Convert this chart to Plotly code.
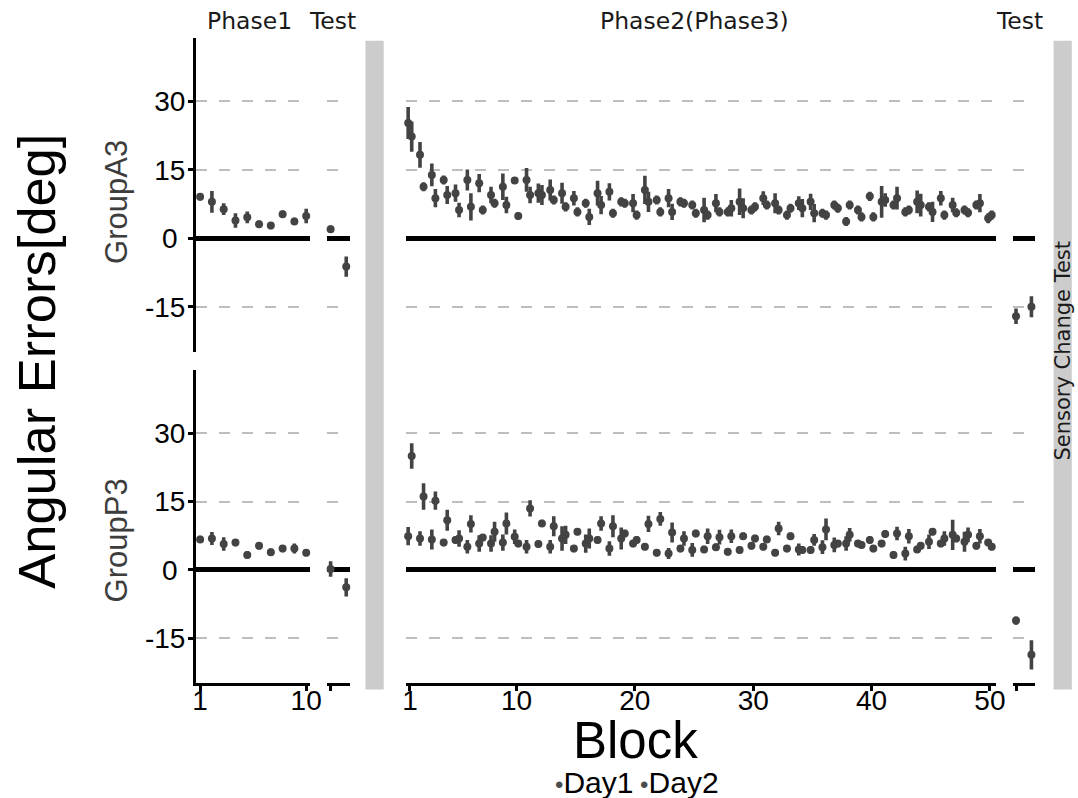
import numpy as np
import plotly.graph_objects as go

W, H = 1078, 798
EW = 1067.5  # effective horizontal extent observed in the photographed page

# ---------------- data ----------------
blocks_phase1 = list(range(1, 11))
blocks_phase2 = list(range(1, 51))
test_positions = [1, 2]
y_ticks = [-15, 0, 15, 30]
y_tick_text = ['-15', '0\u00a0', '15', '30']
x_ticks_phase1 = [1, 10]
x_ticks_phase2 = [1, 10, 20, 30, 40, 50]

# GroupA3
a3_phase1_mean = [9.1, 8.0, 6.4, 3.9, 4.6, 3.1, 2.8, 5.3, 3.7, 4.9]
a3_phase1_se = [0.8, 2.4, 1.3, 1.6, 1.3, 0.8, 0.8, 0.8, 0.8, 1.6]
a3_test1_mean = [2.0, -6.2]
a3_test1_se = [0.8, 2.2]
a3_p2_day1_mean = [25.3, 18.3, 13.9, 12.8, 9.9, 12.8, 12.1, 9.5, 11.3, 12.7,
                   12.8, 9.9, 10.6, 9.9, 8.8, 7.7, 9.9, 10.2, 8.0, 7.7,
                   10.6, 8.4, 8.8, 8.0, 7.3, 6.2, 7.7, 5.8, 8.0, 6.2,
                   8.8, 7.7, 5.1, 7.7, 8.0, 5.5, 7.3, 3.7, 6.2, 9.2,
                   8.0, 7.3, 5.8, 8.0, 6.9, 8.8, 7.3, 6.2, 7.3, 4.4]
a3_p2_day1_se = [3.5, 2.8, 2.5, 1.0, 1.9, 2.3, 2.0, 1.8, 2.9, 0.7,
                 2.6, 2.1, 2.3, 2.3, 1.6, 1.0, 2.7, 1.9, 1.0, 2.0,
                 3.1, 1.0, 2.0, 1.0, 1.0, 2.7, 2.0, 1.0, 2.9, 1.0,
                 1.5, 2.2, 1.0, 1.5, 1.8, 1.0, 1.0, 1.0, 1.0, 1.0,
                 3.5, 1.0, 1.0, 2.5, 1.0, 1.6, 1.6, 1.0, 1.0, 1.1]
a3_p2_day2_mean = [22.3, 11.3, 8.8, 9.5, 6.2, 6.9, 6.2, 7.7, 7.3, 4.9,
                   9.5, 9.5, 8.4, 6.9, 5.8, 4.7, 7.3, 5.5, 7.7, 5.1,
                   8.0, 5.8, 5.8, 7.7, 5.5, 5.1, 5.8, 6.6, 6.6, 6.9,
                   7.3, 6.2, 6.6, 6.6, 5.5, 5.1, 6.6, 7.3, 4.7, 4.7,
                   8.4, 8.8, 6.2, 7.3, 5.8, 5.1, 5.6, 5.6, 7.7, 5.1]
a3_p2_day2_se = [3.3, 1.0, 2.0, 2.0, 1.6, 3.0, 1.0, 1.0, 1.8, 0.8,
                 1.8, 2.2, 1.0, 1.0, 1.0, 1.8, 2.0, 1.0, 1.0, 1.0,
                 2.2, 1.0, 1.8, 1.0, 1.0, 1.0, 1.0, 1.8, 2.2, 1.0,
                 1.0, 1.0, 1.0, 2.0, 2.0, 1.0, 1.0, 1.0, 1.0, 1.0,
                 1.5, 2.5, 1.0, 2.5, 2.2, 1.0, 1.0, 1.0, 2.0, 1.0]
a3_test2_mean = [-17.1, -15.0]
a3_test2_se = [1.7, 2.3]

# GroupP3
p3_phase1_mean = [6.7, 6.9, 5.7, 6.0, 3.3, 5.3, 3.9, 4.7, 4.7, 3.8]
p3_phase1_se = [0.8, 1.4, 1.5, 0.8, 0.8, 0.8, 0.8, 0.8, 1.1, 0.8]
p3_test1_mean = [0.2, -3.8]
p3_test1_se = [1.7, 2.0]
p3_p2_day1_mean = [7.4, 6.9, 6.7, 6.0, 6.6, 5.1, 5.8, 5.8, 6.0, 7.3,
                   5.1, 5.7, 5.1, 6.9, 4.7, 5.8, 6.6, 4.7, 6.9, 5.8,
                   5.1, 3.8, 3.6, 4.7, 4.4, 4.5, 5.0, 4.0, 4.4, 5.3,
                   5.1, 3.8, 4.7, 4.5, 4.4, 5.0, 5.5, 5.8, 5.8, 6.6,
                   5.8, 3.3, 3.6, 4.5, 6.2, 5.8, 7.7, 6.2, 5.3, 6.0]
p3_p2_day1_se = [2.0, 1.6, 2.2, 0.8, 0.8, 1.5, 1.8, 1.8, 1.8, 1.6,
                 1.5, 0.8, 1.5, 2.7, 0.8, 2.0, 0.8, 1.6, 2.4, 0.8,
                 0.8, 0.8, 1.2, 0.8, 1.5, 0.8, 0.8, 0.8, 0.8, 0.8,
                 0.8, 0.8, 0.8, 1.3, 0.8, 1.5, 1.6, 1.6, 0.8, 0.8,
                 0.8, 0.8, 1.5, 0.8, 1.6, 0.8, 3.3, 2.2, 0.8, 0.8]
p3_p2_day2_mean = [25.0, 16.1, 15.2, 10.9, 6.9, 10.1, 7.1, 8.4, 10.2, 5.8,
                   13.5, 10.2, 9.6, 7.7, 8.4, 6.9, 10.2, 9.6, 8.0, 6.6,
                   10.1, 11.2, 8.2, 6.9, 8.0, 7.4, 7.2, 7.4, 7.4, 6.9,
                   6.7, 9.1, 7.4, 4.4, 6.6, 8.9, 5.8, 7.7, 5.5, 4.7,
                   7.9, 8.0, 7.4, 5.3, 8.4, 6.9, 6.9, 7.7, 7.4, 5.1]
p3_p2_day2_se = [2.8, 2.9, 2.0, 2.3, 1.8, 1.9, 0.8, 2.2, 2.4, 0.8,
                 1.8, 0.8, 2.2, 2.0, 0.8, 2.2, 1.6, 2.4, 0.8, 0.8,
                 1.8, 1.5, 2.2, 1.6, 0.8, 1.7, 1.6, 1.5, 0.8, 0.8,
                 0.8, 1.5, 0.8, 0.8, 1.3, 2.4, 0.8, 1.5, 0.8, 0.8,
                 0.8, 1.5, 1.6, 0.8, 0.8, 1.6, 0.8, 1.6, 1.6, 0.8]
p3_test2_mean = [-11.1, -18.6]
p3_test2_se = [0.9, 3.2]

# ---------------- styling ----------------
PT = '#434343'
DODGE = 0.15
SANS = 'Liberation Sans, Arial, sans-serif'
STRIP = 'DejaVu Sans, sans-serif'

col_px = [(193, 307.3), (325, 347.3), (404, 997), (1014, 1036)]
row_px = [(38.3, 351.7), (370, 683.3)]
x_ranges = [[0.65, 10.3], [0.79, 2.21], [0.66, 50.5], [0.79, 2.21]]
y_range = [-24.85, 43.85]


def px(x):
    return x / EW


def xdom(a, b):
    return [px(a), min(px(b), 1.0)]


def ydom(t, b):
    return [1 - b / H, 1 - t / H]


fig = go.Figure()


def add_pts(idx, x, y, e, name):
    sfx = '' if idx == 1 else str(idx)
    fig.add_trace(go.Scatter(
        x=x, y=y, mode='markers', name=name, showlegend=False,
        xaxis='x' + sfx, yaxis='y' + sfx,
        marker=dict(color=PT, size=8, line=dict(width=0)),
        error_y=dict(type='data', array=e, visible=True, thickness=3.6,
                     width=0, color=PT),
        cliponaxis=False,
    ))


b2 = np.array(blocks_phase2, dtype=float)
groups = [
    (a3_phase1_mean, a3_phase1_se, a3_test1_mean, a3_test1_se,
     a3_p2_day1_mean, a3_p2_day1_se, a3_p2_day2_mean, a3_p2_day2_se,
     a3_test2_mean, a3_test2_se),
    (p3_phase1_mean, p3_phase1_se, p3_test1_mean, p3_test1_se,
     p3_p2_day1_mean, p3_p2_day1_se, p3_p2_day2_mean, p3_p2_day2_se,
     p3_test2_mean, p3_test2_se),
]
for r, g in enumerate(groups):
    base = r * 4
    add_pts(base + 1, blocks_phase1, g[0], g[1], 'Day1')
    add_pts(base + 2, test_positions, g[2], g[3], 'Test')
    add_pts(base + 3, b2 - DODGE, g[4], g[5], 'Day1')
    add_pts(base + 3, b2 + DODGE, g[6], g[7], 'Day2')
    add_pts(base + 4, test_positions, g[8], g[9], 'Test')

layout = dict(
    width=W, height=H, margin=dict(l=0, r=0, t=0, b=0),
    paper_bgcolor='white', plot_bgcolor='white', showlegend=False,
    font=dict(family=SANS, color='black'),
)

for r in range(2):
    for c in range(4):
        idx = r * 4 + c + 1
        sfx = '' if idx == 1 else str(idx)
        bottom = (r == 1)
        xa = dict(domain=xdom(*col_px[c]), range=x_ranges[c], anchor='y' + sfx,
                  showgrid=False, zeroline=False, fixedrange=True)
        if bottom:
            if c == 0:
                tv, tt = x_ticks_phase1, [str(v) for v in x_ticks_phase1]
            elif c == 2:
                tv, tt = x_ticks_phase2, [str(v) for v in x_ticks_phase2]
            else:
                tv, tt = [test_positions[0]], ['']
            xa.update(showline=True, linecolor='black', linewidth=3,
                      ticks='outside', ticklen=5, tickwidth=2.5, tickcolor='black',
                      tickvals=tv, ticktext=tt, showticklabels=True,
                      ticklabelstandoff=-15,
                      tickfont=dict(family=SANS, size=28, color='black'))
        else:
            xa.update(showline=False, ticks='', showticklabels=False)
        ya = dict(domain=ydom(*row_px[r]), range=y_range, anchor='x' + sfx,
                  tickvals=y_ticks, showgrid=True, gridcolor='#bebebe', gridwidth=2.2,
                  griddash='11px,12px', zeroline=True, zerolinecolor='black',
                  zerolinewidth=4.5, fixedrange=True)
        if c == 0:
            ya.update(showline=True, linecolor='black', linewidth=3,
                      ticks='outside', ticklen=5, tickwidth=2.5, tickcolor='black',
                      showticklabels=True, ticktext=y_tick_text,
                      ticklabelstandoff=-3,
                      tickfont=dict(family=SANS, size=28, color='black'))
        else:
            ya.update(showline=False, ticks='', showticklabels=False)
        layout['xaxis' + sfx] = xa
        layout['yaxis' + sfx] = ya

fig.update_layout(**layout)

# strip backgrounds on the right of each block of panels
for (x0, x1) in [(363.3, 381.7), (1055, 1073.3)]:
    fig.add_shape(type='rect', xref='paper', yref='paper',
                  x0=px(x0), x1=px(x1), y0=1 - 689.5 / H, y1=1 - 40.7 / H,
                  fillcolor='#cccccc', line=dict(width=0), layer='below')


def ann(text, x, y, size, family, color='black', angle=0):
    fig.add_annotation(text=text, x=px(x), y=1 - y / H, xref='paper', yref='paper',
                       showarrow=False, xanchor='center', yanchor='middle',
                       textangle=angle, font=dict(size=size, family=family, color=color))


ann('Phase1', 247, 21, 23.5, STRIP, '#1a1a1a')
ann('Test', 330, 21, 23.5, STRIP, '#1a1a1a')
ann('Phase2(Phase3)', 694, 21, 23.5, STRIP, '#1a1a1a')
ann('Test', 1021, 21, 23.5, STRIP, '#1a1a1a')
ann('Sensory Change Test', 1064, 351, 21, STRIP, '#1a1a1a', -90)
ann('GroupA3', 113, 201.5, 31, SANS, '#3d3d3d', -90)
ann('GroupP3', 113, 540, 31, SANS, '#3d3d3d', -90)
ann('Angular Errors[deg]', 33, 361, 52.5, SANS, 'black', -90)
ann('Block', 635, 740, 51, SANS, 'black')
dot = '<span style="font-size:24px;color:#4d4d4d">{}•</span>'
ann(dot.format('') + 'Day1' + dot.format(' ') + 'Day2', 636, 782, 30, SANS, 'black')

fig.write_html('out.html')
